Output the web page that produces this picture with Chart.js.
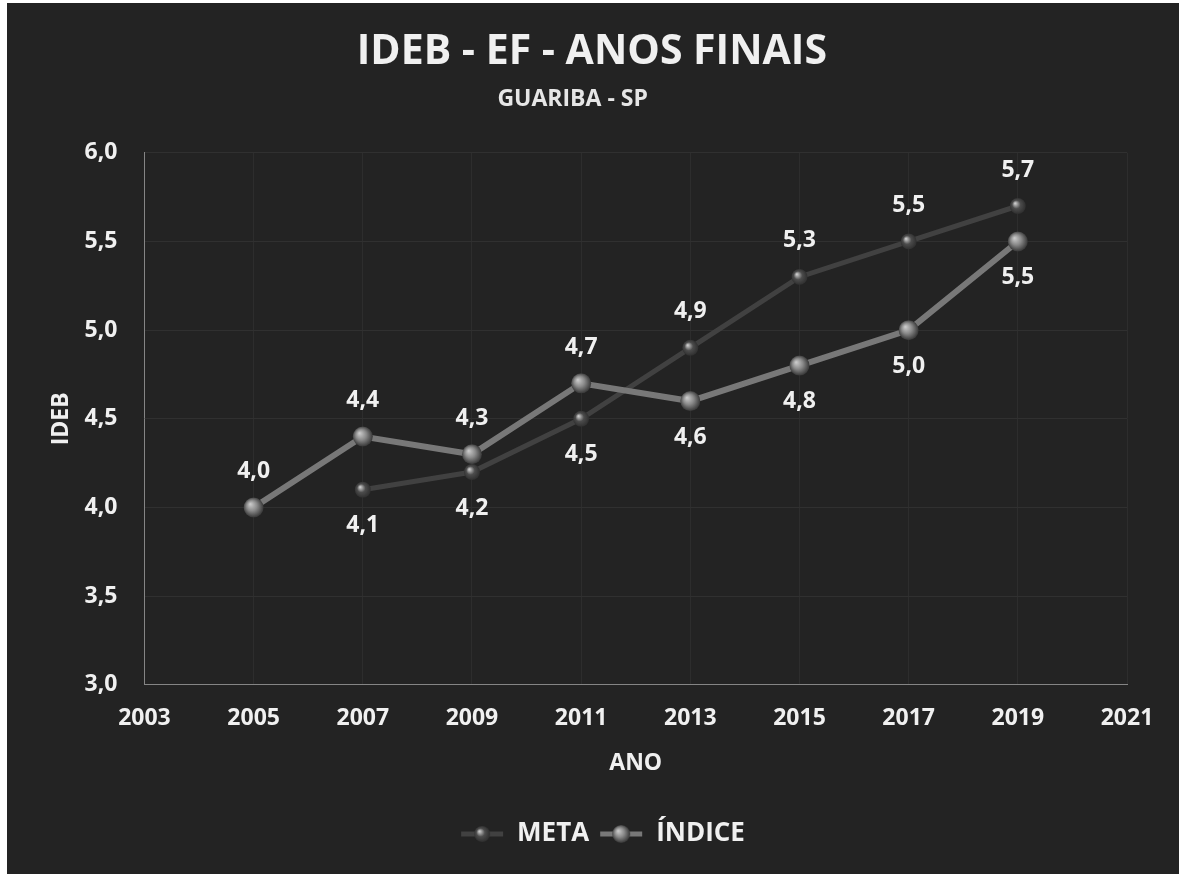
<!DOCTYPE html>
<html>
<head>
<meta charset="utf-8">
<script src="https://cdn.jsdelivr.net/npm/chart.js@4"></script>
<style>
  html, body { margin: 0; padding: 0; background: #fff; }
  #wrap { position: absolute; left: 7px; top: 3px; width: 1172px; height: 871px; background: #232323; }
</style>
</head>
<body>
<div id="wrap"><canvas id="myChart"></canvas></div>
<script>
var metaYears = [2007, 2009, 2011, 2013, 2015, 2017, 2019];
var metaValues = [4.1, 4.2, 4.5, 4.9, 5.3, 5.5, 5.7];
var indiceYears = [2005, 2007, 2009, 2011, 2013, 2015, 2017, 2019];
var indiceValues = [4.0, 4.4, 4.3, 4.7, 4.6, 4.8, 5.0, 5.5];
var yTicks = [3.0, 3.5, 4.0, 4.5, 5.0, 5.5, 6.0];
var xTicks = [2003, 2005, 2007, 2009, 2011, 2013, 2015, 2017, 2019, 2021];

var FONT = "'Open Sans', 'DejaVu Sans', sans-serif";
var metaColor = "#414141";
var indiceColor = "#787878";
var NB = "\u00a0";

function fmt(v) { return v.toFixed(1).replace(".", ","); }

function toPoints(xs, ys) {
  return xs.map(function (x, i) { return {x: x, y: ys[i]}; });
}

// shaded ball look for the markers
function ball(g, x, y, r, base) {
  var grad = g.createRadialGradient(x - r / 3, y - r / 3, 0.5, x, y, r * 1.1);
  grad.addColorStop(0, "#c8c8c8");
  grad.addColorStop(0.45, base);
  grad.addColorStop(1, "#2a2a2a");
  return grad;
}

function markerFill(base, r) {
  return function (c) {
    if (c.type !== "data" || !c.raw) return base;
    var ch = c.chart;
    var x = ch.scales.x.getPixelForValue(c.raw.x);
    var y = ch.scales.y.getPixelForValue(c.raw.y);
    if (!isFinite(x) || !isFinite(y)) return base;
    return ball(ch.ctx, x, y, r, base);
  };
}

// little legend icon: line with a ball on it
function legendIcon(lineCol, dotCol, r) {
  var c = document.createElement("canvas");
  c.width = 44; c.height = 24;
  var g = c.getContext("2d");
  g.strokeStyle = lineCol; g.lineWidth = 5;
  g.beginPath(); g.moveTo(1, 12); g.lineTo(43, 12); g.stroke();
  g.fillStyle = ball(g, 22, 12, r, dotCol);
  g.beginPath(); g.arc(22, 12, r, 0, Math.PI * 2); g.fill();
  return c;
}

var valueLabels = {
  id: "valueLabels",
  afterDatasetsDraw: function (chart) {
    var ctx = chart.ctx;
    ctx.save();
    ctx.font = "bold 23px " + FONT;
    ctx.fillStyle = "#f0f0f0";
    ctx.textAlign = "center";
    ctx.textBaseline = "middle";
    var sets = chart.data.datasets;
    sets.forEach(function (ds, i) {
      var other = sets[1 - i].data;
      var meta = chart.getDatasetMeta(i);
      meta.data.forEach(function (pt, j) {
        var p = ds.data[j];
        var o = other.find(function (q) { return q.x === p.x; });
        var above = !o || p.y >= o.y;
        ctx.fillText(fmt(p.y), pt.x, pt.y + (above ? -36 : 36));
      });
    });
    ctx.restore();
  }
};

new Chart("myChart", {
  type: "line",
  data: {
    datasets: [{
      label: "META",
      data: toPoints(metaYears, metaValues),
      borderColor: metaColor,
      borderWidth: 5,
      pointRadius: 8,
      pointHoverRadius: 8,
      pointBackgroundColor: markerFill("#4c4c4c", 8),
      pointBorderWidth: 0,
      order: 1
    }, {
      label: "ÍNDICE",
      data: toPoints(indiceYears, indiceValues),
      borderColor: indiceColor,
      borderWidth: 6,
      pointRadius: 10,
      pointHoverRadius: 10,
      pointBackgroundColor: markerFill("#8a8a8a", 10),
      pointBorderWidth: 0,
      order: 0
    }]
  },
  plugins: [valueLabels],
  options: {
    responsive: true,
    maintainAspectRatio: false,
    animation: false,
    layout: {padding: {left: 71, right: 52, top: 0, bottom: 17}},
    plugins: {
      title: {
        display: true,
        text: "IDEB - EF - ANOS FINAIS" + NB + NB,
        color: "#f0f0f0",
        font: {family: FONT, size: 41, weight: "bold"},
        padding: {top: 25, bottom: 5}
      },
      subtitle: {
        display: true,
        text: "GUARIBA - SP" + NB.repeat(10),
        color: "#e6e6e6",
        font: {family: FONT, size: 23, weight: "bold"},
        padding: {top: 3, bottom: 40}
      },
      legend: {
        position: "bottom",
        labels: {
          color: "#f0f0f0",
          font: {family: FONT, size: 26, weight: "bold"},
          usePointStyle: true,
          pointStyleWidth: 44,
          padding: 10,
          generateLabels: function (chart) {
            return chart.data.datasets.map(function (ds, i) {
              return {
                text: ds.label,
                fontColor: "#f0f0f0",
                pointStyle: i === 0 ? legendIcon(metaColor, "#4c4c4c", 8) : legendIcon(indiceColor, "#8a8a8a", 9),
                datasetIndex: i,
                hidden: false,
                lineWidth: 0
              };
            });
          }
        }
      },
      tooltip: {enabled: false}
    },
    scales: {
      x: {
        type: "linear",
        min: xTicks[0],
        max: xTicks[xTicks.length - 1],
        afterBuildTicks: function (axis) { axis.ticks = xTicks.map(function (v) { return {value: v}; }); },
        ticks: {
          color: "#f0f0f0",
          font: {family: FONT, size: 23, weight: "bold"},
          padding: 20,
          callback: function (v) { return String(v); }
        },
        grid: {color: "#2d2d2d", drawTicks: false},
        border: {color: "#858585", width: 1},
        title: {
          display: true,
          text: "ANO",
          color: "#f0f0f0",
          font: {family: FONT, size: 23, weight: "bold"},
          padding: {top: -3, bottom: 34}
        }
      },
      y: {
        min: yTicks[0],
        max: yTicks[yTicks.length - 1],
        afterBuildTicks: function (axis) { axis.ticks = yTicks.map(function (v) { return {value: v}; }); },
        ticks: {
          color: "#f0f0f0",
          font: {family: FONT, size: 23, weight: "bold"},
          padding: 27,
          callback: function (v) { return fmt(v); }
        },
        grid: {color: "#303030", drawTicks: false},
        border: {color: "#858585", width: 1},
        title: {
          display: true,
          text: "IDEB",
          color: "#f0f0f0",
          font: {family: FONT, size: 23, weight: "bold"},
          padding: {top: -30, bottom: -18}
        }
      }
    }
  }
});
</script>
</body>
</html>
